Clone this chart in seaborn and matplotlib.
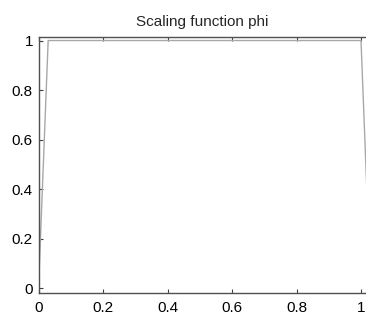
import numpy as np
import matplotlib
matplotlib.use("Agg")
import matplotlib.pyplot as plt
import seaborn as sns

# Haar scaling function samples
x_vals = [0.0, 0.03, 1.0, 1.03]
phi_vals = [0.0, 1.0, 1.0, 0.0]
x_ticks = [0, 0.2, 0.4, 0.6, 0.8, 1]
y_ticks = [0, 0.2, 0.4, 0.6, 0.8, 1]
title = "Scaling function phi"

sns.set_style("white")
plt.rcParams["font.family"] = ["Liberation Sans", "DejaVu Sans"]

W, H = 366, 315
fig = plt.figure(figsize=(W / 100, H / 100), dpi=100)
ax = fig.add_axes([38.5 / W, 22 / H, (W - 38.5) / W, 255.7 / H])

sns.lineplot(x=x_vals, y=phi_vals, ax=ax, color="#a8a8a8", lw=1.0, sort=False)

ax.set_xlim(0, (W - 38.5) / 322.5)
ax.set_ylim(-0.02, 1.013)
ax.set_xticks(x_ticks)
ax.set_yticks(y_ticks)
ax.set_xticklabels([f"{t:g}" for t in x_ticks])
ax.set_yticklabels([f"{t:g}" for t in y_ticks])
ax.tick_params(direction="in", length=3, width=0.8, colors="#404040",
               labelcolor="black", labelsize=11, top=True, right=False,
               left=True, bottom=True)
ax.tick_params(axis="x", pad=6)
ax.tick_params(axis="y", pad=4)
for side in ["left", "bottom", "top"]:
    ax.spines[side].set_color("#505050")
    ax.spines[side].set_linewidth(1.0)
ax.spines["right"].set_visible(False)
ax.set_title(title, fontsize=11, pad=8)

fig.savefig("out.png", dpi=100)
